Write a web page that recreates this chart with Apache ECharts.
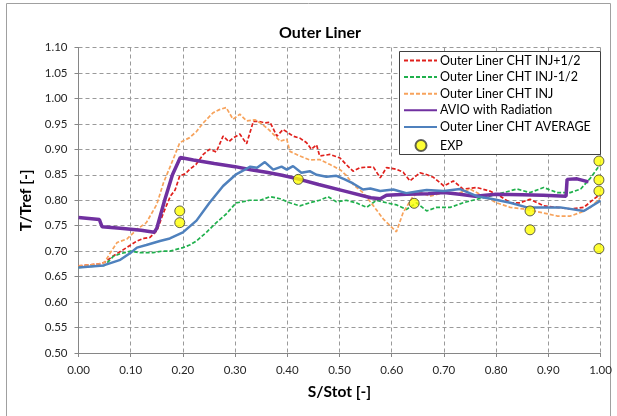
<!DOCTYPE html>
<html>
<head>
<meta charset="utf-8">
<title>Outer Liner</title>
<script src="https://cdn.jsdelivr.net/npm/echarts@6/dist/echarts.min.js"></script>
<style>
  html, body { margin: 0; padding: 0; background: #ffffff; }
  #chart { width: 617px; height: 416px; }
</style>
</head>
<body>
<div id="chart"></div>
<script>
// Axis ticks
const xTicks = [0, 0.1, 0.2, 0.3, 0.4, 0.5, 0.6, 0.7, 0.8, 0.9, 1.0];
const yTicks = [0.5, 0.55, 0.6, 0.65, 0.7, 0.75, 0.8, 0.85, 0.9, 0.95, 1.0, 1.05, 1.1];

// Series names
const seriesNames = [
  'Outer Liner CHT INJ+1/2',
  'Outer Liner CHT INJ-1/2',
  'Outer Liner CHT INJ',
  'AVIO with Radiation',
  'Outer Liner CHT AVERAGE',
  'EXP'
];

// [S/Stot, T/Tref]
const chtInjPlusHalf = [
  [0,0.671],[0.04,0.675],[0.05,0.678],[0.067,0.691],[0.086,0.703],[0.10,0.712],[0.112,0.72],
  [0.125,0.725],[0.137,0.727],[0.15,0.74],[0.163,0.776],[0.176,0.808],[0.185,0.82],[0.194,0.848],
  [0.205,0.852],[0.213,0.861],[0.225,0.87],[0.239,0.89],[0.251,0.90],[0.264,0.895],[0.277,0.926],
  [0.288,0.915],[0.296,0.922],[0.309,0.93],[0.322,0.911],[0.335,0.955],[0.345,0.955],[0.357,0.952],
  [0.367,0.953],[0.38,0.926],[0.392,0.939],[0.411,0.926],[0.424,0.922],[0.437,0.913],[0.446,0.90],
  [0.456,0.909],[0.462,0.887],[0.482,0.89],[0.501,0.883],[0.513,0.87],[0.526,0.857],[0.539,0.864],
  [0.552,0.865],[0.565,0.865],[0.578,0.844],[0.59,0.864],[0.609,0.861],[0.622,0.855],[0.635,0.838],
  [0.654,0.854],[0.668,0.85],[0.68,0.845],[0.70,0.828],[0.718,0.838],[0.737,0.822],[0.763,0.825],
  [0.788,0.818],[0.808,0.808],[0.827,0.795],[0.846,0.795],[0.865,0.802],[0.891,0.789],[0.917,0.786],
  [0.942,0.783],[0.968,0.786],[0.987,0.802],[1.0,0.812]
];

const chtInjMinusHalf = [
  [0,0.668],[0.05,0.672],[0.067,0.69],[0.08,0.695],[0.10,0.70],[0.118,0.697],[0.143,0.697],
  [0.16,0.70],[0.175,0.70],[0.2,0.707],[0.213,0.712],[0.226,0.72],[0.245,0.737],[0.264,0.756],
  [0.283,0.773],[0.302,0.795],[0.315,0.797],[0.328,0.80],[0.348,0.80],[0.367,0.807],[0.386,0.803],
  [0.405,0.795],[0.424,0.789],[0.443,0.795],[0.462,0.80],[0.478,0.807],[0.494,0.797],[0.513,0.80],
  [0.532,0.795],[0.552,0.786],[0.571,0.80],[0.59,0.795],[0.609,0.791],[0.628,0.782],[0.648,0.795],
  [0.667,0.779],[0.686,0.786],[0.712,0.786],[0.737,0.795],[0.763,0.802],[0.788,0.808],[0.814,0.815],
  [0.84,0.822],[0.865,0.815],[0.891,0.825],[0.917,0.815],[0.942,0.815],[0.962,0.822],[0.981,0.844],
  [1.0,0.871]
];

const chtInj = [
  [0,0.671],[0.04,0.675],[0.05,0.678],[0.061,0.697],[0.074,0.717],[0.093,0.724],[0.112,0.743],
  [0.13,0.756],[0.15,0.792],[0.163,0.835],[0.176,0.867],[0.194,0.913],[0.213,0.923],[0.226,0.935],
  [0.239,0.952],[0.258,0.972],[0.27,0.978],[0.283,0.982],[0.296,0.959],[0.309,0.969],[0.322,0.956],
  [0.338,0.958],[0.351,0.95],[0.364,0.939],[0.377,0.926],[0.386,0.916],[0.399,0.92],[0.405,0.896],
  [0.424,0.887],[0.443,0.879],[0.462,0.88],[0.482,0.87],[0.501,0.86],[0.513,0.849],[0.526,0.831],
  [0.545,0.815],[0.565,0.789],[0.584,0.763],[0.609,0.738],[0.622,0.776],[0.641,0.808],[0.654,0.816],
  [0.673,0.808],[0.70,0.815],[0.724,0.812],[0.75,0.822],[0.776,0.808],[0.801,0.795],[0.827,0.786],
  [0.852,0.783],[0.891,0.775],[0.917,0.769],[0.942,0.769],[0.962,0.776],[0.981,0.786],[1.0,0.805]
];

const avioRadiation = [
  [0,0.766],[0.04,0.762],[0.045,0.748],[0.08,0.745],[0.12,0.741],[0.145,0.737],[0.15,0.745],
  [0.165,0.80],[0.18,0.85],[0.195,0.884],[0.22,0.879],[0.26,0.872],[0.30,0.866],[0.33,0.860],
  [0.36,0.855],[0.39,0.849],[0.42,0.842],[0.46,0.831],[0.51,0.818],[0.56,0.805],[0.578,0.803],
  [0.59,0.810],[0.628,0.812],[0.67,0.813],[0.70,0.815],[0.73,0.812],[0.76,0.808],[0.80,0.812],
  [0.85,0.811],[0.89,0.810],[0.934,0.808],[0.936,0.841],[0.955,0.842],[0.977,0.836]
];

const chtAverage = [
  [0,0.668],[0.048,0.672],[0.08,0.683],[0.10,0.697],[0.112,0.707],[0.13,0.712],[0.156,0.72],
  [0.175,0.725],[0.2,0.737],[0.226,0.76],[0.251,0.795],[0.277,0.828],[0.302,0.851],[0.315,0.858],
  [0.329,0.866],[0.342,0.864],[0.357,0.875],[0.373,0.86],[0.389,0.866],[0.399,0.86],[0.411,0.867],
  [0.427,0.854],[0.443,0.857],[0.456,0.85],[0.475,0.846],[0.494,0.848],[0.51,0.841],[0.526,0.833],
  [0.545,0.821],[0.559,0.823],[0.578,0.818],[0.603,0.821],[0.628,0.814],[0.654,0.818],[0.667,0.82],
  [0.70,0.818],[0.731,0.822],[0.763,0.808],[0.795,0.802],[0.827,0.795],[0.859,0.786],[0.891,0.786],
  [0.923,0.786],[0.968,0.779],[1.0,0.799]
];

const expPoints = [
  [0.194,0.779],[0.194,0.756],[0.421,0.841],[0.643,0.794],[0.865,0.779],[0.865,0.742],
  [0.997,0.877],[0.997,0.840],[0.997,0.818],[0.997,0.705]
];

const FONT = 'Lato';

function lineSeries(name, data, color, width, type, z) {
  return {
    name: name,
    type: 'line',
    data: data,
    symbol: 'none',
    z: z,
    lineStyle: { color: color, width: width, type: type },
    itemStyle: { color: color }
  };
}

// Line entries show only their stroke in the legend
const lineLegendData = seriesNames.slice(0, 5).map(n => ({ name: n, itemStyle: { opacity: 0 } }));
const markerLegendData = [{ name: seriesNames[5], icon: 'circle' }];

const legendText = { fontFamily: FONT, fontSize: 12.5, color: '#000', padding: [0, 0, 0, -2] };

const chart = echarts.init(document.getElementById('chart'), null, { renderer: 'canvas' });

chart.setOption({
  animation: false,
  backgroundColor: '#ffffff',
  title: {
    text: 'Outer Liner',
    left: 315,
    top: 20,
    textAlign: 'center',
    textStyle: { fontFamily: FONT, fontWeight: 'bold', fontSize: 16, color: '#000' }
  },
  grid: { left: 78.5, right: 16.5, top: 47.5, bottom: 63 },
  xAxis: {
    type: 'value',
    min: xTicks[0],
    max: xTicks[xTicks.length - 1],
    interval: 0.1,
    name: 'S/Stot [-]',
    nameLocation: 'middle',
    nameGap: 31,
    nameTextStyle: { fontFamily: FONT, fontWeight: 'bold', fontSize: 15.5, color: '#000' },
    axisLine: { lineStyle: { color: '#868686', width: 1 } },
    axisTick: { show: true, length: 4, lineStyle: { color: '#868686' } },
    axisLabel: {
      fontFamily: FONT, fontSize: 11.5, color: '#262626', margin: 11,
      formatter: v => v.toFixed(2)
    },
    splitLine: { show: true, lineStyle: { color: '#9a9a9a', type: [4, 3], width: 1 } }
  },
  yAxis: {
    type: 'value',
    min: yTicks[0],
    max: yTicks[yTicks.length - 1],
    interval: 0.05,
    name: 'T/Tref [-]',
    nameLocation: 'middle',
    nameRotate: 90,
    nameGap: 45,
    nameTextStyle: { fontFamily: FONT, fontWeight: 'bold', fontSize: 15.5, color: '#000' },
    axisLine: { show: true, lineStyle: { color: '#868686', width: 1 } },
    axisTick: { show: true, length: 4, lineStyle: { color: '#868686' } },
    axisLabel: {
      fontFamily: FONT, fontSize: 11.5, color: '#262626', margin: 11,
      formatter: v => v.toFixed(2)
    },
    splitLine: { show: true, lineStyle: { color: '#9a9a9a', type: [4, 3], width: 1 } }
  },
  graphic: {
    elements: [
      {
        type: 'rect', z: 0, silent: true,
        shape: { x: 6.5, y: 3.5, width: 604, height: 420 },
        style: { fill: 'none', stroke: '#a0a0a0', lineWidth: 1 }
      },
      {
        type: 'rect', z: 20, silent: true,
        shape: { x: 399.5, y: 51.5, width: 201, height: 103 },
        style: { fill: '#ffffff', stroke: '#404040', lineWidth: 1 }
      }
    ]
  },
  legend: [
    {
      z: 30,
      orient: 'vertical',
      left: 403,
      top: 54,
      padding: 0,
      itemWidth: 33,
      itemHeight: 14,
      itemGap: 3.6,
      data: lineLegendData,
      textStyle: legendText
    },
    {
      z: 30,
      orient: 'vertical',
      left: 414.5,
      top: 139,
      padding: 0,
      itemWidth: 11,
      itemHeight: 11,
      data: markerLegendData,
      textStyle: { fontFamily: FONT, fontSize: 12.5, color: '#000', padding: [0, 0, 0, 8.5] }
    }
  ],
  series: [
    lineSeries(seriesNames[0], chtInjPlusHalf, '#e0201c', 1.7, [4, 2], 3),
    lineSeries(seriesNames[1], chtInjMinusHalf, '#1fb04c', 1.7, [4, 2], 3),
    lineSeries(seriesNames[2], chtInj, '#f7a35c', 1.7, [4, 2], 3),
    lineSeries(seriesNames[3], avioRadiation, '#7030a0', 3.5, 'solid', 4),
    lineSeries(seriesNames[4], chtAverage, '#4f81bd', 2.5, 'solid', 5),
    {
      name: seriesNames[5],
      type: 'scatter',
      data: expPoints,
      symbol: 'circle',
      symbolSize: 10,
      clip: false,
      z: 6,
      itemStyle: { color: '#ffff00', borderColor: '#3a3a3a', borderWidth: 1 }
    }
  ]
});
</script>
</body>
</html>
